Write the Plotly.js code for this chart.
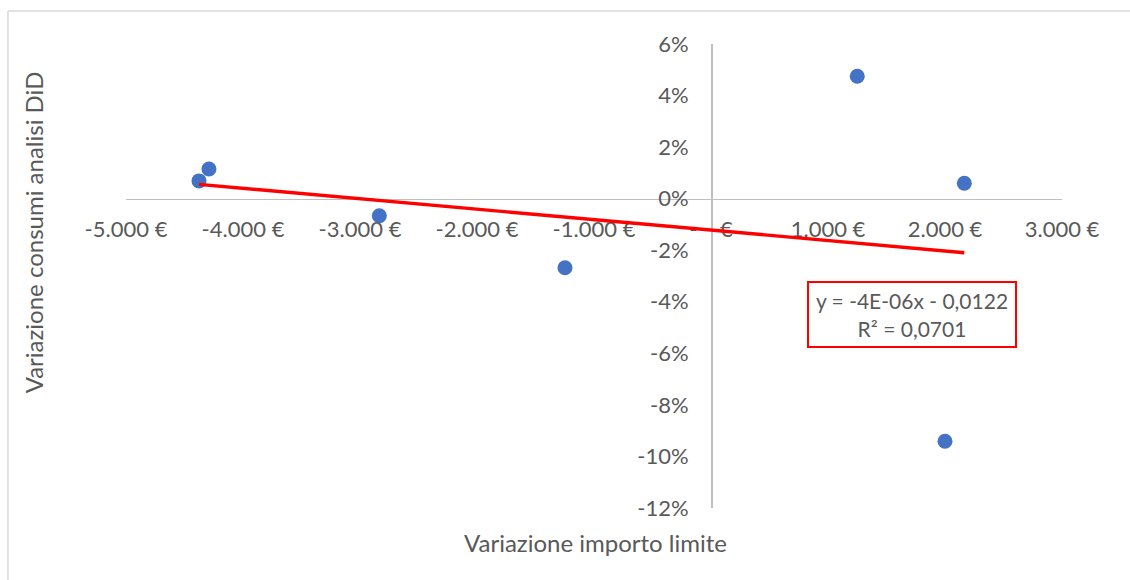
<!DOCTYPE html>
<html>
<head>
<meta charset="utf-8">
<script src="https://cdn.plot.ly/plotly-3.0.1.min.js"></script>
<style>html,body{margin:0;padding:0;background:#fff;}#chart{width:1130px;height:580px;}</style>
</head>
<body>
<div id="chart"></div>
<script>
// Data
var importoLimite = [-4376, -4291, -2835, -1248, 1250, 2165, 2000];        // € (x)
var consumiDiD    = [0.0069, 0.0115, -0.0066, -0.0268, 0.0475, 0.0060, -0.0941]; // fraction (y)

var xTickVals = [-5000, -4000, -3000, -2000, -1000, 0, 1000, 2000, 3000];
var xTickText = ['-5.000 €', '-4.000 €', '-3.000 €', '-2.000 €', '-1.000 €', '-\u00a0\u00a0\u00a0\u00a0€', '1.000 €', '2.000 €', '3.000 €'];
var yTickVals = [0.06, 0.04, 0.02, 0, -0.02, -0.04, -0.06, -0.08, -0.10, -0.12];
var yTickText = ['6%', '4%', '2%', '0%', '-2%', '-4%', '-6%', '-8%', '-10%', '-12%'];

var equationText = 'y = -4E-06x - 0,0122<br>R² = 0,0701';
var xTitle = 'Variazione importo limite';
var yTitle = 'Variazione consumi analisi DiD';

// Linear least-squares trendline from the data
var n = importoLimite.length, mx = 0, my = 0;
for (var i = 0; i < n; i++) { mx += importoLimite[i]; my += consumiDiD[i]; }
mx /= n; my /= n;
var sxy = 0, sxx = 0;
for (var i = 0; i < n; i++) { sxy += (importoLimite[i]-mx)*(consumiDiD[i]-my); sxx += (importoLimite[i]-mx)*(importoLimite[i]-mx); }
var slope = sxy / sxx, intercept = my - slope * mx;
var xMin = Math.min.apply(null, importoLimite), xMax = Math.max.apply(null, importoLimite);
var trendX = [xMin, xMax];
var trendY = [intercept + slope * xMin, intercept + slope * xMax];

var FONT = 'Lato, "Open Sans", sans-serif';
var GREY = '#595959';

var traces = [
  { x: importoLimite, y: consumiDiD, type: 'scatter', mode: 'markers',
    marker: { color: '#4472C4', size: 15 }, hoverinfo: 'x+y' },
  { x: trendX, y: trendY, type: 'scatter', mode: 'lines',
    line: { color: '#FF0000', width: 3.4 }, hoverinfo: 'skip' }
];

var layout = {
  width: 1130, height: 580,
  margin: { l: 126, r: 68, t: 44, b: 72 },
  paper_bgcolor: '#ffffff', plot_bgcolor: 'rgba(0,0,0,0)',
  showlegend: false,
  font: { family: FONT, color: GREY, size: 22 },
  xaxis: {
    range: [-5000, 3000], tickvals: xTickVals, ticktext: xTickText,
    showgrid: false, zeroline: false, showline: true, linecolor: '#BFBFBF', linewidth: 1.5,
    anchor: 'free', position: 2/3, ticks: '', ticklabelstandoff: 10,
    tickfont: { family: FONT, size: 22, color: GREY }, layer: 'below traces', fixedrange: true
  },
  yaxis: {
    range: [-0.12, 0.06], tickvals: yTickVals, ticktext: yTickText,
    showgrid: false, zeroline: false, showline: true, linecolor: '#BFBFBF', linewidth: 1.5,
    anchor: 'free', position: 0.625, ticks: '', ticklabelstandoff: 18,
    tickfont: { family: FONT, size: 22, color: GREY }, layer: 'below traces', fixedrange: true
  },
  shapes: [
    { type: 'line', xref: 'paper', yref: 'paper', x0: -0.1261, x1: 1.3, y0: 1.0711, y1: 1.0711,
      line: { color: '#D9D9D9', width: 1.5 } },
    { type: 'line', xref: 'paper', yref: 'paper', x0: -0.1261, x1: -0.1261, y0: 1.0711, y1: -0.3,
      line: { color: '#D9D9D9', width: 1.5 } }
  ],
  annotations: [
    { text: xTitle, xref: 'paper', yref: 'paper', x: 0.502, y: -0.0754, xanchor: 'center', yanchor: 'middle',
      showarrow: false, font: { family: FONT, size: 24, color: GREY } },
    { text: yTitle, xref: 'paper', yref: 'paper', x: -0.0994, y: 0.594, xanchor: 'center', yanchor: 'middle',
      textangle: -90, showarrow: false, font: { family: FONT, size: 24, color: GREY } },
    { text: equationText, xref: 'paper', yref: 'paper', x: 0.8397, y: 0.417, xanchor: 'center', yanchor: 'middle',
      showarrow: false, align: 'center', bordercolor: '#FF0000', borderwidth: 2, borderpad: 1,
      bgcolor: '#ffffff', width: 204, height: 61,
      font: { family: FONT, size: 21, color: GREY } }
  ]
};

Plotly.newPlot('chart', traces, layout, { displayModeBar: false, staticPlot: true });
</script>
</body>
</html>
